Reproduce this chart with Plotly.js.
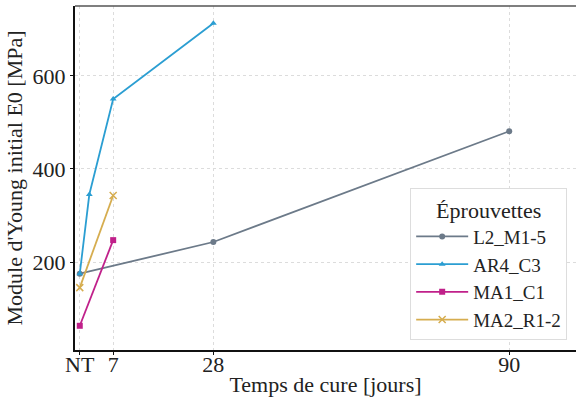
<!DOCTYPE html>
<html><head><meta charset="utf-8">
<script src="https://cdn.plot.ly/plotly-3.0.1.min.js"></script>
<style>html,body{margin:0;padding:0;background:#fff}#chart{width:576px;height:403px}</style>
</head><body><div id="chart"></div>
<script>
const seriesNames = ['L2_M1-5', 'AR4_C3', 'MA1_C1', 'MA2_R1-2'];
const l2Days = [0, 28, 90];
const l2Values = [175, 243, 481];
const ar4Days = [0, 2, 7, 28];
const ar4Values = [175, 345, 550, 713];
const ma1Days = [0, 7];
const ma1Values = [63, 247];
const ma2Days = [0, 7];
const ma2Values = [145, 343];
const xTickVals = [0, 7, 28, 90];
const xTickText = ['NT', '7', '28', '90'];
const yTickVals = [200, 400, 600];

const colors = ['#6c7a89', '#2b9ed2', '#c0208a', '#d6ad4f'];
const symbols = ['circle', 'triangle-up', 'square', 'x-thin-open'];
const xs = [l2Days, ar4Days, ma1Days, ma2Days];
const ys = [l2Values, ar4Values, ma1Values, ma2Values];

const font = '"Liberation Serif", "Times New Roman", serif';
const traces = seriesNames.map((n, i) => ({
  type: 'scatter', mode: 'lines+markers', name: n,
  x: xs[i], y: ys[i],
  line: {color: colors[i], width: 1.8},
  marker: {color: colors[i], symbol: symbols[i], size: i === 3 ? 7 : 6,
           line: {color: colors[i], width: i === 3 ? 1.5 : 0}}
}));

const layout = {
  width: 576, height: 403,
  margin: {l: 75, r: 0, t: 6, b: 53},
  paper_bgcolor: '#fff', plot_bgcolor: '#fff',
  font: {family: font, size: 22, color: '#222'},
  showlegend: true,
  legend: {
    x: 0.669, y: 0.471, xanchor: 'left', yanchor: 'top',
    bgcolor: '#fff', bordercolor: '#dddddd', borderwidth: 1,
    font: {family: font, size: 19, color: '#222'},
    title: {text: 'Éprouvettes', side: 'top center', font: {family: font, size: 22, color: '#222'}},
    tracegroupgap: 0, itemwidth: 52
  },
  xaxis: {
    range: [-1, 104], tickvals: xTickVals, ticktext: xTickText,
    showgrid: true, gridcolor: '#dcdcdc', griddash: 'dot', gridwidth: 1,
    showline: true, linecolor: '#111', linewidth: 2,
    ticks: 'outside', ticklen: 3, tickcolor: '#111', zeroline: false,
    ticklabelstandoff: -9,
    tickfont: {family: font, size: 22, color: '#222'},
    title: {text: 'Temps de cure [jours]', font: {family: font, size: 22, color: '#222'}, standoff: 0}
  },
  yaxis: {
    range: [11, 750], tickvals: yTickVals,
    showgrid: true, gridcolor: '#dcdcdc', griddash: 'dot', gridwidth: 1,
    showline: true, linecolor: '#111', linewidth: 2,
    ticks: 'outside', ticklen: 3, tickcolor: '#111', zeroline: false,
    tickfont: {family: font, size: 22, color: '#222'},
    title: {text: "Module d'Young initial E0 [MPa]", font: {family: font, size: 22, color: '#222'}, standoff: 4}
  },
  shapes: [{type: 'line', xref: 'paper', yref: 'paper', x0: 0, x1: 1, y0: 1, y1: 1,
            line: {color: '#555', width: 1.5}}]
};
Plotly.newPlot('chart', traces, layout, {displayModeBar: false, staticPlot: true});
</script></body></html>
